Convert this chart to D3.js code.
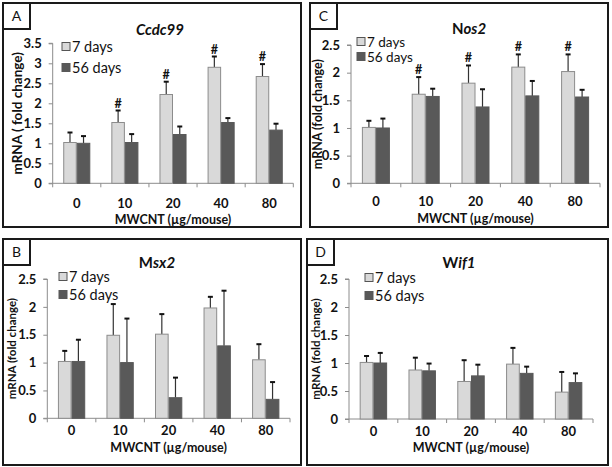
<!DOCTYPE html>
<html>
<head>
<meta charset="utf-8">
<script src="https://cdn.jsdelivr.net/npm/d3@7/dist/d3.min.js"></script>
<style>
  html, body { margin: 0; padding: 0; background: #fff; }
  svg { display: block; font-family: Lato, "Open Sans", sans-serif; }
</style>
</head>
<body>
<svg id="chart" width="612" height="467"></svg>
<script>
// ---------- DATA ----------
const categories = ["0", "10", "20", "40", "80"];
const seriesNames = ["7 days", "56 days"];

// Panel A: Ccdc99
const ccdc99_7d = [1.02, 1.52, 2.22, 2.90, 2.67];
const ccdc99_7dSD = [0.25, 0.30, 0.32, 0.27, 0.31];
const ccdc99_56d = [1.00, 1.02, 1.22, 1.52, 1.33];
const ccdc99_56dSD = [0.18, 0.21, 0.20, 0.11, 0.16];
const ccdc99_sig = [false, true, true, true, true];
const ccdc99_ticks = [0, 0.5, 1, 1.5, 2, 2.5, 3, 3.5];

// Panel C: Nos2
const nos2_7d = [1.01, 1.61, 1.81, 2.10, 2.02];
const nos2_7dSD = [0.12, 0.31, 0.32, 0.23, 0.31];
const nos2_56d = [1.00, 1.57, 1.38, 1.58, 1.56];
const nos2_56dSD = [0.17, 0.14, 0.32, 0.27, 0.13];
const nos2_sig = [false, true, true, true, true];
const nos2_ticks = [0, 0.5, 1, 1.5, 2, 2.5];

// Panel B: Msx2
const msx2_7d = [1.02, 1.49, 1.51, 1.98, 1.05];
const msx2_7dSD = [0.19, 0.56, 0.36, 0.20, 0.28];
const msx2_56d = [1.02, 1.00, 0.37, 1.30, 0.34];
const msx2_56dSD = [0.39, 0.79, 0.36, 0.99, 0.31];
const msx2_sig = [false, false, false, false, false];
const msx2_ticks = [0, 0.5, 1, 1.5, 2, 2.5];

// Panel D: Wif1
const wif1_7d = [1.01, 0.875, 0.67, 0.98, 0.48];
const wif1_7dSD = [0.115, 0.22, 0.38, 0.29, 0.36];
const wif1_56d = [1.00, 0.86, 0.77, 0.815, 0.65];
const wif1_56dSD = [0.18, 0.13, 0.20, 0.12, 0.165];
const wif1_sig = [false, false, false, false, false];
const wif1_ticks = [0, 0.5, 1, 1.5, 2, 2.5];

// ---------- LAYOUT ----------
const panels = [
  { letter: "A", titleUp: "", titleIt: "Ccdc99", ylabel: "mRNA ( fold change)", ylabSize: 13.5,
    s1: ccdc99_7d, e1: ccdc99_7dSD, s2: ccdc99_56d, e2: ccdc99_56dSD, sig: ccdc99_sig, ticks: ccdc99_ticks,
    box: [3, 3, 301, 227], x0: 52.7, x1: 293.3, y0: 183.3, y1: 43.3,
    titleX: 160, titleY: 35, legX: 62, legY: 47, legDy: 21, legSize: 14.5, ylabX: 22, tickLabY: 208, xTitleY: 224 },
  { letter: "C", titleUp: "N", titleIt: "os2", ylabel: "mRNA (fold change)", ylabSize: 12.5,
    s1: nos2_7d, e1: nos2_7dSD, s2: nos2_56d, e2: nos2_56dSD, sig: nos2_sig, ticks: nos2_ticks,
    box: [310, 3, 608, 227], x0: 351, x1: 600, y0: 183.3, y1: 45,
    titleX: 469, titleY: 34, legX: 357, legY: 42, legDy: 15, legSize: 13.5, ylabX: 322, tickLabY: 206, xTitleY: 223 },
  { letter: "B", titleUp: "M", titleIt: "sx2", ylabel: "mRNA (fold change)", ylabSize: 11.5,
    s1: msx2_7d, e1: msx2_7dSD, s2: msx2_56d, e2: msx2_56dSD, sig: msx2_sig, ticks: msx2_ticks,
    box: [3, 239, 301, 465], x0: 47.3, x1: 290, y0: 418.3, y1: 279,
    titleX: 157, titleY: 268, legX: 59, legY: 277, legDy: 18, legSize: 14.5, ylabX: 16, tickLabY: 435, xTitleY: 452 },
  { letter: "D", titleUp: "W", titleIt: "if1", ylabel: "mRNA (fold change)", ylabSize: 11.5,
    s1: wif1_7d, e1: wif1_7dSD, s2: wif1_56d, e2: wif1_56dSD, sig: wif1_sig, ticks: wif1_ticks,
    box: [307, 239, 608, 465], x0: 349, x1: 593, y0: 419, y1: 279,
    titleX: 459, titleY: 268, legX: 365, legY: 278, legDy: 18, legSize: 14.5, ylabX: 320, tickLabY: 436, xTitleY: 452 }
];

const lightFill = "#d9d9d9", lightStroke = "#8c8c8c";
const darkFill = "#595959";
const svg = d3.select("#chart");

panels.forEach(p => {
  const g = svg.append("g");
  const [bx0, by0, bx1, by1] = p.box;

  // panel border
  g.append("rect").attr("x", bx0).attr("y", by0).attr("width", bx1 - bx0).attr("height", by1 - by0)
    .attr("fill", "none").attr("stroke", "#1a1a1a").attr("stroke-width", 2);
  // letter box
  g.append("rect").attr("x", bx0).attr("y", by0).attr("width", 27).attr("height", 26)
    .attr("fill", "#fff").attr("stroke", "#1a1a1a").attr("stroke-width", 2);
  g.append("text").attr("x", bx0 + 13.5).attr("y", by0 + 18).attr("text-anchor", "middle")
    .attr("font-size", 14).attr("fill", "#111").text(p.letter);

  const step = (p.x1 - p.x0) / categories.length;
  const groupW = step * 0.5625;
  const sub = d3.scaleBand().domain(seriesNames).range([0, groupW]);
  const xb = d3.scaleBand().domain(categories).range([p.x0, p.x1]);
  const gx = c => xb(c) + (xb.bandwidth() - groupW) / 2;
  const maxT = p.ticks[p.ticks.length - 1];
  const y = d3.scaleLinear().domain([0, maxT]).range([p.y0, p.y1]);

  // axes
  const yAxis = d3.axisLeft(y).tickValues(p.ticks).tickSize(4).tickPadding(7)
    .tickFormat(d => d3.format("")(d));
  const ya = g.append("g").attr("transform", `translate(${p.x0},0)`).call(yAxis);
  ya.select(".domain").attr("stroke", "#8c8c8c").attr("d", `M-4,${p.y1}H0V${p.y0}H-4`);
  ya.selectAll(".tick line").attr("stroke", "#8c8c8c");
  ya.selectAll(".tick text").attr("font-size", 13).attr("font-weight", "bold").attr("fill", "#111")
    .attr("font-family", "Lato, sans-serif");

  const xa = g.append("g").attr("transform", `translate(0,${p.y0})`)
    .call(d3.axisBottom(xb).tickSize(0).tickFormat(""));
  xa.select(".domain").attr("stroke", "#8c8c8c").attr("d", `M${p.x0},0H${p.x1}`);
  // category separator ticks
  const bounds = categories.map(c => xb(c)).concat([p.x1]);
  g.selectAll(".sep").data(bounds).enter().append("line")
    .attr("x1", d => d).attr("x2", d => d).attr("y1", p.y0).attr("y2", p.y0 + 4)
    .attr("stroke", "#8c8c8c");
  // category labels
  g.selectAll(".cl").data(categories).enter().append("text")
    .attr("x", c => xb(c) + xb.bandwidth() / 2).attr("y", p.tickLabY)
    .attr("text-anchor", "middle").attr("font-size", 13).attr("font-weight", "bold").attr("fill", "#111")
    .text(c => c);
  // x title
  g.append("text").attr("x", (p.x0 + p.x1) / 2).attr("y", p.xTitleY).attr("text-anchor", "middle")
    .attr("font-size", 12.5).attr("font-weight", "bold").attr("fill", "#111").text("MWCNT (µg/mouse)");
  // y title
  g.append("text").attr("transform", `translate(${p.ylabX},${(p.y0 + p.y1) / 2}) rotate(-90)`)
    .attr("text-anchor", "middle").attr("font-size", p.ylabSize).attr("font-weight", "bold").attr("fill", "#111")
    .text(p.ylabel);
  // title
  const t = g.append("text").attr("x", p.titleX).attr("y", p.titleY).attr("text-anchor", "middle")
    .attr("font-size", 15).attr("font-weight", "bold").attr("fill", "#111");
  if (p.titleUp) t.append("tspan").text(p.titleUp);
  t.append("tspan").attr("font-style", "italic").text(p.titleIt);

  // bars
  const series = [
    { name: seriesNames[0], vals: p.s1, errs: p.e1, fill: lightFill, stroke: lightStroke },
    { name: seriesNames[1], vals: p.s2, errs: p.e2, fill: darkFill, stroke: darkFill }
  ];
  series.forEach(s => {
    const bw = sub.bandwidth();
    const recs = categories.map((c, i) => ({ c, v: s.vals[i], e: s.errs[i] }));
    const cx = d => gx(d.c) + sub(s.name) + bw / 2;
    g.selectAll(null).data(recs).enter().append("line")
      .attr("x1", cx).attr("x2", cx)
      .attr("y1", d => y(d.v)).attr("y2", d => y(d.v + d.e))
      .attr("stroke", "#333").attr("stroke-width", 1.2);
    g.selectAll(null).data(recs).enter().append("line")
      .attr("x1", d => cx(d) - 2.5).attr("x2", d => cx(d) + 2.5)
      .attr("y1", d => y(d.v + d.e)).attr("y2", d => y(d.v + d.e))
      .attr("stroke", "#111").attr("stroke-width", 2);
    g.selectAll(null).data(recs).enter().append("rect")
      .attr("x", d => gx(d.c) + sub(s.name) + 0.5).attr("width", bw - 1)
      .attr("y", d => y(d.v)).attr("height", d => y(0) - y(d.v))
      .attr("fill", s.fill).attr("stroke", s.stroke).attr("stroke-width", 1);
  });
  // significance marks
  const sigRecs = categories.map((c, i) => ({ c, top: p.s1[i] + p.e1[i], sig: p.sig[i] })).filter(d => d.sig);
  g.selectAll(null).data(sigRecs).enter().append("text")
    .attr("x", d => gx(d.c) + sub(seriesNames[0]) + sub.bandwidth() / 2)
    .attr("y", d => y(d.top) - 3).attr("text-anchor", "middle")
    .attr("font-size", 12.5).attr("font-weight", "bold").attr("fill", "#111").text("#");

  // legend
  series.forEach((s, i) => {
    const ly = p.legY + i * p.legDy;
    g.append("rect").attr("x", p.legX).attr("y", ly - 4.5).attr("width", 8).attr("height", 8)
      .attr("fill", s.fill).attr("stroke", i === 0 ? "#555" : s.fill).attr("stroke-width", 1);
    g.append("text").attr("x", p.legX + 10).attr("y", ly + 4.5).attr("font-size", p.legSize).attr("fill", "#111")
      .text(s.name);
  });
});
</script>
</body>
</html>
